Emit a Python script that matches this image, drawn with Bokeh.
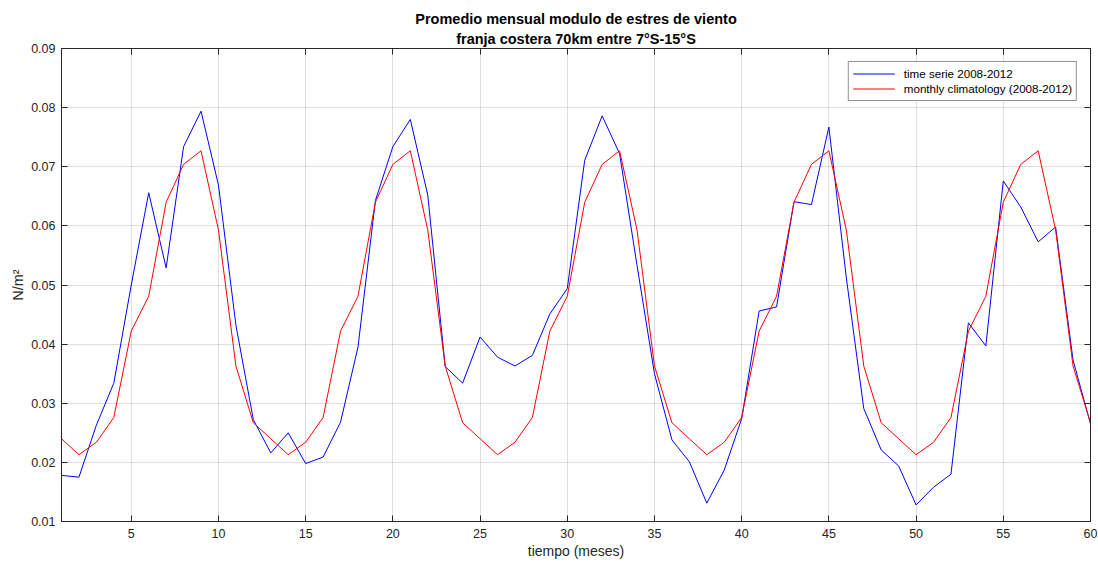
from bokeh.plotting import figure
from bokeh.models import (LinearAxis, Range1d, FixedTicker, PrintfTickFormatter,
                          Legend, LegendItem, Title)
from bokeh.embed import file_html
from bokeh.resources import INLINE

# Monthly mean wind-stress magnitude, coastal band 70 km, 7°S-15°S (2008-2012)
months = list(range(1, 61))
time_serie = [
    0.0178, 0.0175, 0.0263, 0.0334, 0.0500, 0.0656, 0.0529, 0.0734, 0.0794, 0.0669, 0.0432, 0.0272,
    0.0216, 0.0250, 0.0198, 0.0209, 0.0268, 0.0395, 0.0643, 0.0734, 0.0780, 0.0652, 0.0362, 0.0334,
    0.0412, 0.0378, 0.0363, 0.0381, 0.0451, 0.0494, 0.0711, 0.0786, 0.0722, 0.0533, 0.0350, 0.0238,
    0.0201, 0.0131, 0.0187, 0.0274, 0.0456, 0.0463, 0.0641, 0.0636, 0.0767, 0.0512, 0.0291, 0.0221,
    0.0194, 0.0128, 0.0158, 0.0180, 0.0436, 0.0397, 0.0676, 0.0632, 0.0573, 0.0598, 0.0373, 0.0265,
]
# monthly climatology (Jan..Dec), repeated for each of the five years
climatology_month = [0.0240, 0.0213, 0.0234, 0.0276, 0.0422, 0.0481,
                     0.0640, 0.0704, 0.0727, 0.0593, 0.0363, 0.0267]
n_years = 5
climatology = climatology_month * n_years

x_ticks = [5, 10, 15, 20, 25, 30, 35, 40, 45, 50, 55, 60]
y_ticks = [0.01, 0.02, 0.03, 0.04, 0.05, 0.06, 0.07, 0.08, 0.09]

title_lines = ["Promedio mensual modulo de estres de viento",
               "franja costera 70km entre 7°S-15°S"]
legend_labels = ["time serie 2008-2012", "monthly climatology (2008-2012)"]

FONT = "Liberation Sans"
AXC = "#262626"

p = figure(width=1098, height=563, output_backend="svg", toolbar_location=None,
           x_range=Range1d(1, 60), y_range=Range1d(0.01, 0.09),
           min_border_left=61, min_border_right=8, min_border_top=48,
           min_border_bottom=42, x_axis_location=None, y_axis_location=None,
           background_fill_color="white", border_fill_color="white")
p.outline_line_color = AXC
p.outline_line_width = 1


def style_axis(ax, labels=True):
    ax.axis_line_color = AXC
    ax.major_tick_line_color = AXC
    ax.major_tick_in = 6
    ax.major_tick_out = 0
    ax.minor_tick_line_color = None
    ax.major_label_text_font = FONT
    ax.major_label_text_font_size = "12.5px"
    ax.major_label_text_color = AXC
    ax.axis_label_text_font = FONT
    ax.axis_label_text_font_size = "14px"
    ax.axis_label_text_font_style = "normal"
    ax.axis_label_text_color = AXC
    if not labels:
        ax.major_label_text_color = None
        ax.major_label_text_font_size = "0px"


xb = LinearAxis(ticker=FixedTicker(ticks=x_ticks), axis_label="tiempo (meses)")
style_axis(xb)
xb.major_label_standoff = 7
xb.axis_label_standoff = 2
p.add_layout(xb, "below")

yl = LinearAxis(ticker=FixedTicker(ticks=y_ticks), axis_label="N/m²",
                formatter=PrintfTickFormatter(format="%.2f"))
style_axis(yl)
yl.major_label_standoff = 6
yl.axis_label_standoff = 2
yl.axis_label_text_font_size = "14.5px"
p.add_layout(yl, "left")

xt = LinearAxis(ticker=FixedTicker(ticks=x_ticks))
style_axis(xt, labels=False)
p.add_layout(xt, "above")

yr = LinearAxis(ticker=FixedTicker(ticks=y_ticks))
style_axis(yr, labels=False)
p.add_layout(yr, "right")

for txt, so in zip(reversed(title_lines), (4, 0)):
    t = Title(text=txt, align="center", text_font=FONT, text_font_size="14.5px",
              text_font_style="bold", text_color="black", standoff=so)
    p.add_layout(t, "above")

p.xgrid.ticker = FixedTicker(ticks=x_ticks)
p.ygrid.ticker = FixedTicker(ticks=y_ticks)
for g in (p.xgrid, p.ygrid):
    g.grid_line_color = AXC
    g.grid_line_alpha = 0.15

r_ts = p.line(months, time_serie, line_color="#0000FF", line_width=1)
r_cl = p.line(months, climatology, line_color="#FF0000", line_width=1)

legend = Legend(items=[LegendItem(label=legend_labels[0], renderers=[r_ts]),
                       LegendItem(label=legend_labels[1], renderers=[r_cl])],
                location="top_right", margin=13, padding=4, spacing=0,
                glyph_width=42, glyph_height=15, label_height=15,
                label_standoff=9, label_text_font=FONT,
                label_text_font_size="11.6px", label_text_color="black",
                border_line_color=AXC, border_line_width=1,
                background_fill_color="white", background_fill_alpha=1)
p.add_layout(legend, "center")

open("out.html", "w").write(file_html(p, INLINE))
